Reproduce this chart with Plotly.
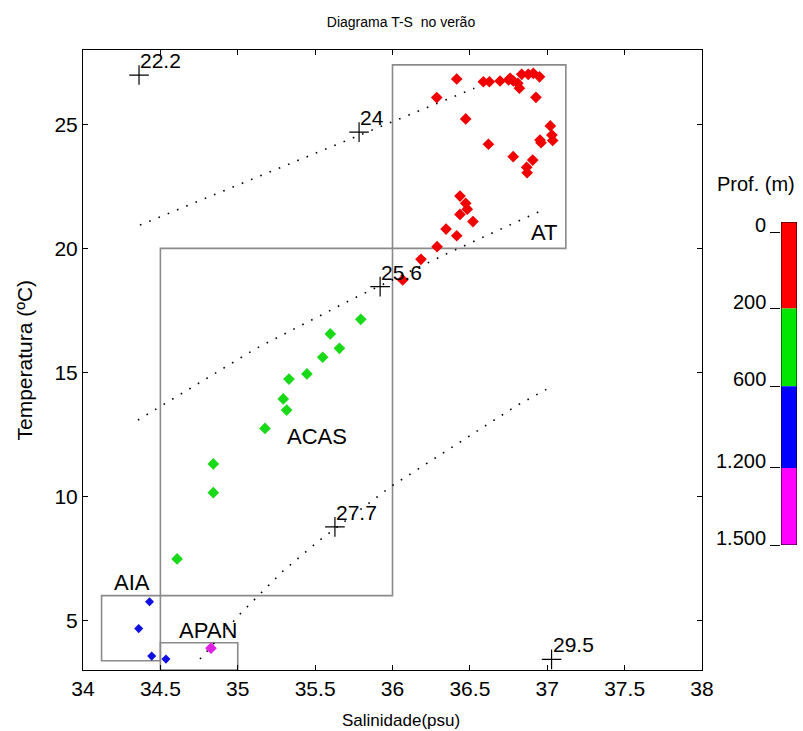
import plotly.graph_objects as go

# ---------------- data ----------------
# Depth class 0-200 m (red)
sal_red = [36.415, 36.286, 36.473, 36.587, 36.626, 36.695, 36.750, 36.760, 36.781, 36.810,
           36.820, 36.835, 36.877, 36.910, 36.950, 36.927, 37.020, 37.030, 37.035, 36.953,
           36.960, 36.620, 36.780, 36.906, 36.867, 36.870, 36.436, 36.473, 36.483, 36.436,
           36.520, 36.346, 36.415, 36.288, 36.184, 36.066]
temp_red = [26.83, 26.08, 25.22, 26.72, 26.72, 26.75, 26.79, 26.86, 26.75, 26.66,
            26.46, 27.02, 27.02, 27.06, 26.92, 26.09, 24.94, 24.57, 24.35, 24.37,
            24.26, 24.20, 23.70, 23.56, 23.27, 23.05, 22.11, 21.82, 21.58, 21.37,
            21.08, 20.78, 20.51, 20.07, 19.56, 18.73]
# Depth class 200-600 m (green)
sal_green = [35.795, 35.598, 35.657, 35.549, 35.447, 35.331, 35.294, 35.316, 35.176,
             34.842, 34.842, 34.608]
temp_green = [17.14, 16.55, 15.97, 15.61, 14.94, 14.73, 13.93, 13.48, 12.74,
              11.31, 10.15, 7.48]
# Depth class 600-1200 m (blue)
sal_blue = [34.430, 34.360, 34.444, 34.536]
temp_blue = [5.75, 4.67, 3.56, 3.44]
# Depth class 1200-1500 m (magenta)
sal_mag = [34.827]
temp_mag = [3.88]

# isopycnal dotted lines (sigma-t)
iso24_s = [34.368, 36.060, 36.529]
iso24_t = [20.94, 25.27, 26.46]
iso256_s = [34.355, 35.120, 35.758, 36.346, 36.985]
iso256_t = [13.08, 15.97, 18.01, 19.77, 21.59]
iso277_s = [34.756, 35.015, 35.294, 35.530, 35.995, 36.800, 37.033]
iso277_t = [3.44, 5.26, 7.00, 8.24, 10.42, 13.65, 14.45]

# isopycnal label points
lab_s = [34.362, 35.784, 35.920, 35.628, 37.028]
lab_t = [26.99, 24.69, 18.46, 8.77, 3.43]
lab_txt = ["22.2", "24", "25.6", "27.7", "29.5"]

# water mass boxes: (S min, S max, T min, T max)
box_names = ["AT", "ACAS", "AIA", "APAN"]
box_smin = [36.00, 34.50, 34.12, 34.50]
box_smax = [37.12, 36.00, 34.50, 35.00]
box_tmin = [20.00, 6.00, 3.37, 3.00]
box_tmax = [27.40, 20.00, 6.00, 4.10]
name_s = [36.98, 35.51, 34.317, 34.81]
name_t = [20.66, 12.41, 6.53, 4.61]

# colour bar (depth classes)
cbar_labels = ["0", "200", "600", "1.200", "1.500"]
cbar_colors = ["#ff0000", "#00e600", "#0000ff", "#ff00ff"]

# ---------------- figure ----------------
FONT = "Liberation Sans"
fig = go.Figure()

dot = dict(color="black", width=1.6, dash="1.6px,8.4px")
for xs, ys in [(iso24_s, iso24_t), (iso256_s, iso256_t), (iso277_s, iso277_t)]:
    fig.add_trace(go.Scatter(x=xs, y=ys, mode="lines", line=dot, hoverinfo="skip"))

groups = [
    (sal_red, temp_red, "#f00000", 9),
    (sal_green, temp_green, "#19d919", 9),
    (sal_blue, temp_blue, "#1010e0", 7),
    (sal_mag, temp_mag, "#e020e0", 9),
]
for xs, ys, col, sz in groups:
    fig.add_trace(go.Scatter(x=xs, y=ys, mode="markers",
                             marker=dict(symbol="diamond", size=sz, color=col,
                                         line=dict(width=0))))

fig.add_trace(go.Scatter(x=lab_s, y=lab_t, mode="markers",
                         marker=dict(symbol="cross-thin", size=14,
                                     line=dict(color="black", width=1.2))))

for s, t, txt in zip(lab_s, lab_t, lab_txt):
    fig.add_annotation(x=s, y=t, xref="x", yref="y", text=txt, showarrow=False,
                       xanchor="left", yanchor="bottom", yshift=2, borderpad=0,
                       font=dict(family=FONT, size=21, color="black"))

for i in range(len(box_names)):
    fig.add_shape(type="rect", xref="x", yref="y",
                  x0=box_smin[i], x1=box_smax[i], y0=box_tmin[i], y1=box_tmax[i],
                  line=dict(color="#8a8a8a", width=1.6), layer="below")
    fig.add_annotation(x=name_s[i], y=name_t[i], xref="x", yref="y", text=box_names[i],
                       showarrow=False, xanchor="center", yanchor="middle",
                       font=dict(family=FONT, size=22, color="black"))

# colour bar drawn on its own axis pair
cb_edges = [0, 1.072, 2.033, 3.045, 4.0]
cb_ticks = [0.124, 1.072, 2.033, 3.045, 4.0]
fig.add_trace(go.Bar(x=[0, 0, 0, 0],
                     y=[cb_edges[i + 1] - cb_edges[i] for i in range(4)],
                     base=cb_edges[:4], width=1, xaxis="x2", yaxis="y2",
                     marker=dict(color=cbar_colors, line=dict(width=0)),
                     hoverinfo="skip"))
fig.add_shape(type="rect", xref="x2", yref="y2", x0=-0.5, x1=0.5, y0=0, y1=4,
              line=dict(color="black", width=1))
for tv, tl in zip(cb_ticks, cbar_labels):
    fig.add_annotation(text=tl, xref="paper", yref="y2", x=(767 - 83) / 714, y=tv,
                       xanchor="right", yanchor="middle", yshift=7, showarrow=False,
                       borderpad=0, font=dict(family=FONT, size=20, color="black"))

axis_common = dict(showline=True, linecolor="black", linewidth=1, mirror="ticks",
                   ticks="inside", ticklen=5, tickcolor="black", showgrid=False,
                   zeroline=False, tickfont=dict(family=FONT, size=21, color="black"))

fig.update_layout(
    width=803, height=731,
    margin=dict(l=83, r=6, t=50, b=61, autoexpand=False),
    paper_bgcolor="white", plot_bgcolor="white",
    showlegend=False, barmode="overlay",
    font=dict(family=FONT, color="black"),
    title=dict(text="Diagrama T-S  no verão", x=401 / 803, xanchor="center",
               y=1 - 22 / 731, yanchor="middle", yref="container",
               font=dict(family=FONT, size=14, color="black")),
    xaxis=dict(range=[34, 38], domain=[0, 619 / 714], tick0=34, dtick=0.5,
               **axis_common),
    yaxis=dict(range=[3, 28], tickvals=[5, 10, 15, 20, 25], **axis_common),
    xaxis2=dict(domain=[698 / 714, 1.0], range=[-0.5, 0.5], anchor="y2",
                visible=False),
    yaxis2=dict(domain=[125 / 620, 448 / 620], range=[4, 0], anchor="x2",
                side="left", tickvals=cb_ticks, showticklabels=False,
                ticks="outside", ticklen=10, tickcolor="black", showline=False,
                showgrid=False, zeroline=False),
)

fig.add_annotation(text="Salinidade(psu)", xref="paper", yref="paper",
                   x=(401 - 83) / 714, y=(670 - 720) / 620, showarrow=False,
                   xanchor="center", yanchor="middle",
                   font=dict(family=FONT, size=17, color="black"))
fig.add_annotation(text="Temperatura (ºC)", xref="paper", yref="paper",
                   x=(23.5 - 83) / 714, y=0.5, showarrow=False, textangle=-90,
                   xanchor="center", yanchor="middle",
                   font=dict(family=FONT, size=21, color="black"))
fig.add_annotation(text="Prof. (m)", xref="paper", yref="paper",
                   x=(755.5 - 83) / 714, y=(670 - 184) / 620, showarrow=False,
                   xanchor="center", yanchor="middle",
                   font=dict(family=FONT, size=20, color="black"))

fig.write_html("out.html")
